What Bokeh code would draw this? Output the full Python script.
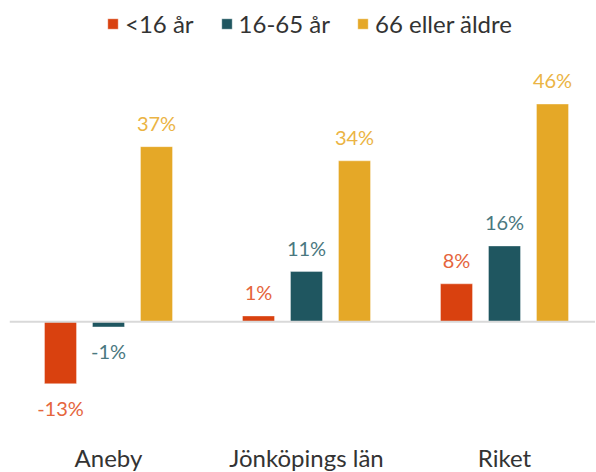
from bokeh.plotting import figure
from bokeh.models import ColumnDataSource, Range1d, FixedTicker, Span, Legend, LegendItem
from bokeh.core.properties import value
from bokeh.embed import file_html
from bokeh.resources import INLINE

categories = ["Aneby", "Jönköpings län", "Riket"]
series_names = ["<16 år", "16-65 år", "66 eller äldre"]
under16 = [-13.1, 1.2, 8.0]
age16_65 = [-1.1, 10.6, 16.0]
over66 = [37.0, 34.0, 46.0]

bar_colors = ["#D9410F", "#1F5660", "#E5A827"]
label_colors = ["#E5653D", "#4A7880", "#EBB444"]
FONT = "Lato"

p = figure(output_backend="svg", toolbar_location=None,
           frame_width=586, frame_height=422,
           min_border_left=9, min_border_right=0, min_border_top=8,
           x_range=Range1d(-0.5, -0.5 + 586 / 198),
           y_range=Range1d(-23.0, 66.2))
p.outline_line_color = None
p.background_fill_color = "white"
p.border_fill_color = "white"
p.xgrid.visible = False
p.ygrid.visible = False
p.yaxis.visible = False

offsets = [-0.2424, 0.0, 0.2424]
bar_w = 32 / 198
renderers = []
for vals, off, bc, lc in zip([under16, age16_65, over66], offsets, bar_colors, label_colors):
    xs = [i + off for i in range(len(categories))]
    labels = [f"{v:.0f}%" for v in vals]
    yoff = [-24 if v >= 0 else 24 for v in vals]
    src = ColumnDataSource(dict(x=xs, top=vals, label=labels, yoff=yoff))
    r = p.vbar(x="x", top="top", bottom=0, width=bar_w, source=src,
               fill_color=bc, line_color="white", line_alpha=0.35, line_width=1)
    renderers.append(r)
    p.text(x="x", y="top", text="label", source=src, y_offset="yoff",
           text_align="center", text_baseline="alphabetic",
           text_font=value(FONT), text_font_size="20px", text_color=lc)

p.add_layout(Span(location=0, dimension="width", line_color="#D9D9D9", line_width=2))

ax = p.xaxis[0]
ax.ticker = FixedTicker(ticks=list(range(len(categories))))
ax.major_label_overrides = {i: c for i, c in enumerate(categories)}
ax.axis_line_color = None
ax.major_tick_line_color = None
ax.minor_tick_line_color = None
ax.major_tick_out = 0
ax.minor_tick_out = 0
ax.major_label_standoff = 12
ax.major_label_text_font = FONT
ax.major_label_text_font_size = "24px"
ax.major_label_text_color = "#333333"

legend = Legend(items=[LegendItem(label=n, renderers=[r]) for n, r in zip(series_names, renderers)],
                orientation="horizontal", location=(97, 392),
                padding=0, margin=0, spacing=26, label_standoff=6,
                glyph_width=13, glyph_height=13, label_height=26,
                label_text_font=FONT, label_text_font_size="24px",
                label_text_color="#333333",
                background_fill_alpha=0, border_line_color=None)
p.add_layout(legend)

open("out.html", "w").write(file_html(p, INLINE))
